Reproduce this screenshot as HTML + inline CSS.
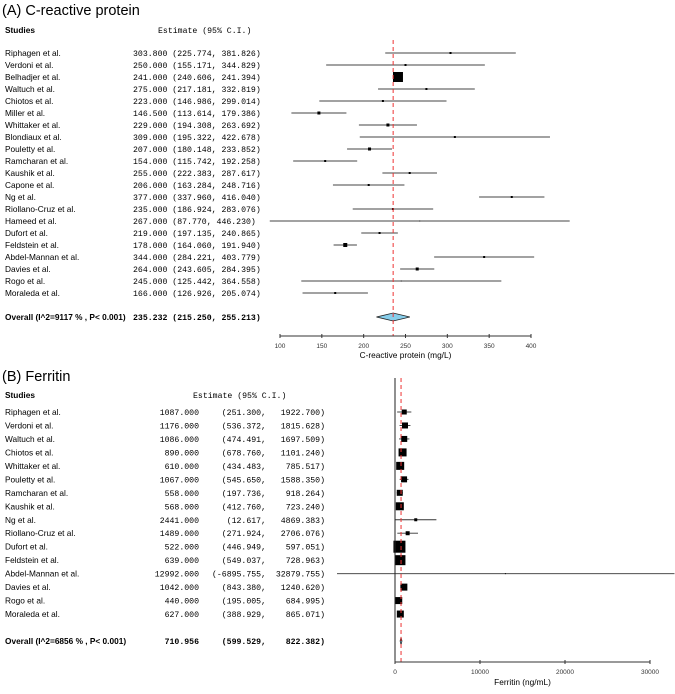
<!DOCTYPE html>
<html><head><meta charset="utf-8"><style>
html,body{margin:0;padding:0;background:#fff}
svg text{font-family:"Liberation Sans",sans-serif}
.m{font-family:"Liberation Mono",monospace;font-size:8.2px}
.n{font-size:8.3px}
</style></head><body>
<svg id="c" width="675" height="689" xmlns="http://www.w3.org/2000/svg"></svg>
<script>
const aStudies=["Riphagen et al.","Verdoni et al.","Belhadjer et al.","Waltuch et al.","Chiotos et al.","Miller et al.","Whittaker et al.","Blondiaux et al.","Pouletty et al.","Ramcharan et al.","Kaushik et al.","Capone et al.","Ng et al.","Riollano-Cruz et al.","Hameed et al.","Dufort et al.","Feldstein et al.","Abdel-Mannan et al.","Davies et al.","Rogo et al.","Moraleda et al."];
const aEst=[303.8,250,241,275,223,146.5,229,309,207,154,255,206,377,235,267,219,178,344,264,245,166];
const aLo=[225.774,155.171,240.606,217.181,146.986,113.614,194.308,195.322,180.148,115.742,222.383,163.284,337.960,186.924,87.770,197.135,164.060,284.221,243.605,125.442,126.926];
const aHi=[381.826,344.829,241.394,332.819,299.014,179.386,263.692,422.678,233.852,192.258,287.617,248.716,416.040,283.076,446.230,240.865,191.940,403.779,284.395,364.558,205.074];
const aBox=[2,2,10,2,2,3,3,2,3,2,2,2,2,2,1,2,4,2,3,1,2];
const aOverall=[235.232,215.250,255.213];
const aTicks=[100,150,200,250,300,350,400];
const bStudies=["Riphagen et al.","Verdoni et al.","Waltuch et al.","Chiotos et al.","Whittaker et al.","Pouletty et al.","Ramcharan et al.","Kaushik et al.","Ng et al.","Riollano-Cruz et al.","Dufort et al.","Feldstein et al.","Abdel-Mannan et al.","Davies et al.","Rogo et al.","Moraleda et al."];
const bEst=[1087,1176,1086,890,610,1067,558,568,2441,1489,522,639,12992,1042,440,627];
const bLo=[251.300,536.372,474.491,678.760,434.483,545.650,197.736,412.760,12.617,271.924,446.949,549.037,-6895.755,843.380,195.005,388.929];
const bHi=[1922.700,1815.628,1697.509,1101.240,785.517,1588.350,918.264,723.240,4869.383,2706.076,597.051,728.963,32879.755,1240.620,684.995,865.071];
const bBox=[5,6,6,8,8,6,6,8,3,4,12,10,1,7,7,7];
const bOverall=[710.956,599.529,822.382];
const bTicks=[0,10000,20000,30000];

const svg=document.getElementById('c');const NS='http://www.w3.org/2000/svg';
function el(t,a,txt){const e=document.createElementNS(NS,t);for(const k in a)e.setAttribute(k,a[k]);if(txt!==undefined)e.textContent=txt;svg.appendChild(e);return e;}
const f3=v=>v.toFixed(3);
// Panel A
const ax=v=>280+(v-100)*251/300, ay=i=>53+i*12;
let t=el('text',{x:2,y:15,'font-size':'14.5px'},'(A)  C-reactive protein');
t=el('text',{x:5,y:33,'font-size':'8.3px','font-weight':'bold'},'Studies');
t=el('text',{x:158,y:33,class:'m'},'Estimate (95% C.I.)');
aStudies.forEach((s,i)=>{const y=ay(i);
 let e=el('text',{x:5,y:y+3,class:'n'},s);
 e=el('text',{x:133,y:y+3,class:'m','xml:space':'preserve'},f3(aEst[i]).padStart(7)+' ('+f3(aLo[i])+', '+f3(aHi[i])+')');
 e=el('line',{x1:ax(aLo[i]),x2:ax(aHi[i]),y1:y,y2:y,stroke:'#444','stroke-width':0.9});
 const b=aBox[i];e=el('rect',{x:ax(aEst[i])-b/2,y:y-b/2,width:b,height:b,fill:'#000'});
});
const oyA=317;
t=el('text',{x:5,y:oyA+3,'font-size':'8.3px','font-weight':'bold'},'Overall (I^2=9117 % , P< 0.001)');
t=el('text',{x:133,y:oyA+3,class:'m','font-weight':'bold','xml:space':'preserve'},f3(aOverall[0])+' ('+f3(aOverall[1])+', '+f3(aOverall[2])+')');
t=el('polygon',{points:`${ax(aOverall[1])},${oyA} ${ax(aOverall[0])},${oyA-4} ${ax(aOverall[2])},${oyA} ${ax(aOverall[0])},${oyA+4}`,fill:'#87CEEB',stroke:'#222','stroke-width':0.8});
t=el('line',{x1:ax(aOverall[0]),x2:ax(aOverall[0]),y1:40,y2:336,stroke:'#e33','stroke-width':1,'stroke-dasharray':'4,3'});
t=el('line',{x1:ax(100),x2:ax(400),y1:336,y2:336,stroke:'#333','stroke-width':1});
aTicks.forEach(v=>{let e=el('line',{x1:ax(v),x2:ax(v),y1:334,y2:338,stroke:'#333'});
 e=el('text',{x:ax(v),y:348,'font-size':'6.5px','text-anchor':'middle',fill:'#333'},v);});
t=el('text',{x:ax(250),y:358,'font-size':'8.3px','text-anchor':'middle'},'C-reactive protein (mg/L)');
// Panel B
const bx=v=>Math.max(337,Math.min(675,395+v*255/30000)), by=i=>412+i*13.47;
t=el('text',{x:2,y:381,'font-size':'14.5px'},'(B)  Ferritin');
t=el('text',{x:5,y:398,'font-size':'8.3px','font-weight':'bold'},'Studies');
t=el('text',{x:193,y:398,class:'m'},'Estimate (95% C.I.)');
function rowB(y,name,e0,lo,hi,bold,nm){
 let e=el('text',{x:5,y:y+3,class:'n','font-weight':bold?'bold':'normal'},name);
 const at={class:'m','text-anchor':'end','font-weight':bold?'bold':'normal','xml:space':'preserve'};
 e=el('text',Object.assign({x:199,y:y+3},at),f3(e0));
 e=el('text',Object.assign({x:266,y:y+3},at),'('+f3(lo)+',');
 e=el('text',Object.assign({x:325,y:y+3},at),f3(hi)+')');
}
bStudies.forEach((s,i)=>{const y=by(i);rowB(y,s,bEst[i],bLo[i],bHi[i],false,'study-b');
 let e=el('line',{x1:bx(bLo[i]),x2:bx(bHi[i]),y1:y,y2:y,stroke:'#333','stroke-width':0.9});
 const b=bBox[i];e=el('rect',{x:bx(bEst[i])-b/2,y:y-b/2,width:b,height:b,fill:'#000'});
});
const oyB=641;
rowB(oyB,'Overall (I^2=6856 % , P< 0.001)',bOverall[0],bOverall[1],bOverall[2],true,'overall-b');
t=el('polygon',{points:`${bx(bOverall[1])},${oyB} ${bx(bOverall[0])},${oyB-4} ${bx(bOverall[2])},${oyB} ${bx(bOverall[0])},${oyB+4}`,fill:'#87CEEB',stroke:'#222','stroke-width':0.7});
t=el('line',{x1:bx(bOverall[0]),x2:bx(bOverall[0]),y1:378,y2:662,stroke:'#e33','stroke-width':1,'stroke-dasharray':'4,3'});
t=el('line',{x1:395,x2:395,y1:378,y2:662,stroke:'#222','stroke-width':1});
t=el('line',{x1:bx(0),x2:bx(30000),y1:662,y2:662,stroke:'#333','stroke-width':1});
bTicks.forEach(v=>{let e=el('line',{x1:bx(v),x2:bx(v),y1:660,y2:664,stroke:'#333'});
 e=el('text',{x:bx(v),y:674,'font-size':'6.5px','text-anchor':'middle',fill:'#333'},v);});
t=el('text',{x:bx(15000),y:685,'font-size':'8.3px','text-anchor':'middle'},'Ferritin (ng/mL)');
</script>
</body></html>
